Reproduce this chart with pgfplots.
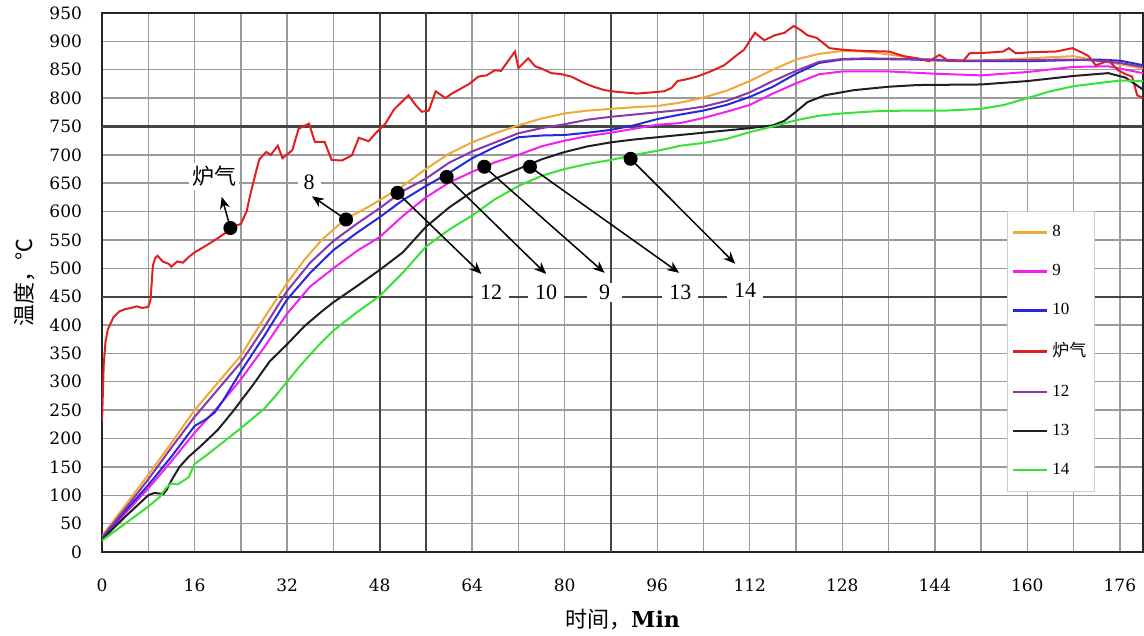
\documentclass[border=0pt]{standalone}
\usepackage{fontspec}
\setmainfont{DejaVu Serif}
\newfontfamily\cjk{Noto Sans CJK SC}
\newfontfamily\tnr{Liberation Serif}
\usepackage{pgfplots}
\pgfplotsset{compat=1.18}
\usetikzlibrary{arrows.meta}
\definecolor{c8}{HTML}{F0A838}
\definecolor{c9}{HTML}{F020F0}
\definecolor{c10}{HTML}{2828D8}
\definecolor{cred}{HTML}{E02020}
\definecolor{c12}{HTML}{8838A8}
\definecolor{c13}{HTML}{202020}
\definecolor{c14}{HTML}{38E038}
\definecolor{gridc}{HTML}{9A9A9A}
\definecolor{gridd}{HTML}{454545}
\begin{document}
\begin{tikzpicture}
\begin{axis}[
 set layers,
 scale only axis, width=520.5pt, height=269.5pt,
 xmin=0, xmax=180, ymin=0, ymax=950,
 xtick={0,16,...,176}, minor xtick={8,24,...,168},
 ytick={0,50,...,950},
 grid=both,
 major grid style={gridc, line width=0.7pt},
 minor grid style={gridc, line width=0.7pt},
 major tick length=0pt, minor tick length=0pt,
 axis line style={black!85, line width=1.1pt},
 tick label style={font=\fontsize{8.5}{10}\selectfont},
 /pgf/number format/assume math mode=true,
 yticklabel style={xshift=-6.5pt},
 xticklabel style={yshift=-10pt},
 xlabel={{\cjk 时间，}\textbf{Min}},
 xlabel style={font=\fontsize{11}{13}\selectfont, at={(axis description cs:0.5,0)}, anchor=center, yshift=-34pt},
 ylabel={{\cjk 温度，℃}},
 ylabel style={font=\fontsize{11}{13}\selectfont, at={(axis description cs:-0.075,0.5)}, anchor=center},
 legend style={at={(axis cs:156.5,601)}, anchor=north west, font=\fontsize{8.5}{9}\tnr,
   draw=gray!40, fill=white, row sep=8.4pt, inner xsep=2pt, inner ysep=5pt},
 legend cell align=left,
 legend image code/.code={\draw[#1, line width=1.4pt] (0cm,0cm) -- (0.6cm,0cm);},
 every axis plot/.append style={line width=1pt},
]
% darker grid lines
\draw[gridd, line width=1.05pt] (axis cs:48,0) -- (axis cs:48,950);
\draw[gridd, line width=1.05pt] (axis cs:56,0) -- (axis cs:56,950);
\draw[gridd, line width=1.05pt] (axis cs:88,0) -- (axis cs:88,950);
\draw[gridd, line width=1.05pt] (axis cs:0,450) -- (axis cs:180,450);
\draw[gridd, line width=1.05pt] (axis cs:0,750) -- (axis cs:180,750);
\addplot[c8] coordinates {(0,28)(4,82)(8,136)(12,192)(16,250)(20,298)(24,346)(28,412)(32,474)(35,515)(38,550)(42,586)(46,608)(48,620)(52,645)(56,675)(60,702)(64,722)(68,738)(72,752)(76,764)(80,773)(84,778)(88,781)(92,784)(96,786)(100,792)(104,801)(108,813)(112,830)(116,850)(120,868)(124,878)(128,883)(132,882)(136,877)(140,871)(144,866)(150,866)(156,868)(162,871)(168,874)(172,866)(176,860)(180,852)};
\addlegendentry{8}
\addplot[c9] coordinates {(0,24)(4,68)(8,112)(12,160)(16,210)(20,255)(24,304)(28,360)(32,420)(36,468)(40,500)(44,530)(48,555)(52,592)(56,625)(60,651)(64,670)(68,687)(72,700)(76,715)(80,725)(84,733)(88,739)(92,746)(96,753)(100,756)(104,765)(108,776)(112,788)(116,808)(120,826)(124,842)(128,847)(136,847)(144,843)(152,840)(160,846)(168,855)(174,856)(180,844)};
\addlegendentry{9}
\addplot[c10] coordinates {(0,25)(4,72)(8,118)(12,168)(16,222)(18,234)(19.5,246)(21,268)(24,318)(28,380)(32,445)(36,492)(40,532)(44,562)(48,590)(52,620)(56,645)(60,668)(64,694)(68,714)(72,731)(76,734)(80,735)(84,739)(88,744)(92,752)(96,763)(100,771)(104,778)(108,788)(112,802)(116,820)(120,843)(124,862)(128,868)(132,869)(140,868)(150,865)(160,865)(168,867)(172,868)(176,866)(180,858)};
\addlegendentry{10}
\addplot[cred] coordinates {(0,230)(0.3,330)(0.6,370)(1,392)(2,414)(3,424)(4,428)(5,430)(6,433)(7,430)(8,432)(8.4,445)(8.8,505)(9.2,518)(9.6,522)(10.5,512)(11.5,508)(12,503)(13,512)(14,510)(15,520)(16,528)(18,540)(20,553)(21,560)(22,566)(23,575)(24,578)(25,600)(25.6,628)(26.5,665)(27.2,692)(28.4,705)(29.2,700)(30.4,716)(31.2,694)(32.9,708)(34,746)(35.8,755)(36.8,723)(38.5,723)(39.7,691)(41.5,690)(43.2,699)(44.4,730)(46.1,724)(47.5,740)(49,755)(50.5,780)(51.5,790)(53,805)(54.2,788)(55.3,776)(56.5,778)(57.7,812)(59.4,800)(60.5,808)(62.1,817)(63.5,825)(65.1,838)(66.5,840)(67.9,849)(69,848)(70.2,865)(71.4,882)(72,853)(73.7,870)(74.9,856)(76,852)(77.7,844)(79.5,842)(81.1,838)(83.5,826)(85,820)(86.9,814)(89,811)(92.6,808)(95,810)(97.2,812)(98.5,818)(99.5,830)(101,833)(102.9,838)(105,846)(107.6,858)(109.8,876)(111,885)(112.9,915)(114.5,902)(116.4,911)(118,915)(119.6,927)(120.8,920)(121.9,911)(123.6,906)(125.8,888)(128.2,885)(132,883)(136.1,882)(138.6,874)(141,870)(143,865)(144.8,876)(146.5,865)(148.9,865)(150,879)(153,880)(155.8,882)(156.8,888)(158,879)(161,881)(164.9,882)(167.8,888)(169.5,880)(170.6,874)(171.8,858)(173,862)(174,867)(175.7,849)(177,842)(178.1,838)(179,805)(180,800)};
\addlegendentry{\cjk 炉气}
\addplot[c12] coordinates {(0,26)(4,76)(8,128)(12,184)(16,238)(20,286)(24,334)(28,395)(32,460)(36,510)(40,548)(44,578)(48,606)(52,636)(56,658)(60,686)(64,706)(68,722)(72,738)(76,747)(80,754)(84,762)(88,767)(92,771)(96,775)(100,779)(104,785)(108,795)(112,810)(116,830)(120,848)(124,864)(128,869)(132,870)(140,869)(150,866)(160,867)(168,868)(172,866)(176,862)(180,855)};
\addlegendentry{12}
\addplot[c13] coordinates {(0,22)(4,62)(8,100)(9,104)(10,103)(10.6,102)(11.2,110)(12,126)(13.4,150)(15,168)(17,186)(20,215)(22.5,246)(26,293)(29,336)(32,366)(35,398)(38,424)(40,440)(44,468)(48,497)(52,528)(56,573)(60,607)(64,635)(68,658)(72,675)(76,692)(80,705)(84,715)(88,722)(92,727)(96,731)(100,735)(104,739)(108,743)(112,747)(116,752)(118,760)(120,776)(122,793)(125,805)(130,814)(136,820)(141,823)(152,824)(160,830)(168,839)(174,844)(177,836)(180,815)};
\addlegendentry{13}
\addplot[c14] coordinates {(0,20)(4,50)(8,80)(10,97)(11,112)(12,121)(13,119)(14,125)(15,132)(16,155)(18,170)(20,186)(22,202)(24,218)(26,235)(28,252)(30,275)(32,300)(34,325)(36,348)(38,370)(40,390)(44,422)(48,451)(52,492)(56,538)(60,568)(64,593)(68,622)(72,645)(76,663)(80,675)(84,684)(88,691)(92,700)(96,707)(100,716)(104,721)(108,728)(112,740)(116,750)(120,761)(124,769)(128,773)(134,777)(140,778)(146,778)(152,781)(156,788)(160,800)(164,812)(168,821)(172,826)(176,831)(180,830)};
\addlegendentry{14}
% annotation arrows
\draw[-{Stealth[length=6pt,width=5pt]}, line width=0.75pt] (axis cs:22.2,571) -- (axis cs:20.7,626);
\draw[-{Stealth[length=6pt,width=5pt]}, line width=0.75pt] (axis cs:42.2,586) -- (axis cs:36.3,627);
\draw[-{Stealth[length=6pt,width=5pt]}, line width=0.75pt] (axis cs:51.1,633) -- (axis cs:65.6,490);
\draw[-{Stealth[length=6pt,width=5pt]}, line width=0.75pt] (axis cs:59.6,661) -- (axis cs:76.8,490);
\draw[-{Stealth[length=6pt,width=5pt]}, line width=0.75pt] (axis cs:66.1,679) -- (axis cs:86.9,492);
\draw[-{Stealth[length=6pt,width=5pt]}, line width=0.75pt] (axis cs:74,679) -- (axis cs:99.8,492);
\draw[-{Stealth[length=6pt,width=5pt]}, line width=0.75pt] (axis cs:91.4,693) -- (axis cs:109.5,508);
\addplot[only marks, mark=*, mark size=3pt, black, forget plot] coordinates {(22.2,571)(42.2,586)(51.1,633)(59.6,661)(66.1,679)(74,679)(91.4,693)};
\node[fill=white, inner sep=1.5pt, font=\fontsize{11}{12}\cjk] at (axis cs:19.4,662) {炉气};
\node[fill=white, inner xsep=3pt, inner ysep=1pt, font=\fontsize{11}{12}\tnr] at (axis cs:35.8,652) {8};
\node[fill=white, inner xsep=3.5pt, inner ysep=1pt, font=\fontsize{11}{12}\tnr] at (axis cs:67.3,458) {12};
\node[fill=white, inner xsep=3.5pt, inner ysep=1pt, font=\fontsize{11}{12}\tnr] at (axis cs:76.8,458) {10};
\node[fill=white, inner xsep=6pt, inner ysep=1pt, font=\fontsize{11}{12}\tnr] at (axis cs:86.9,458) {9};
\node[fill=white, inner xsep=3.5pt, inner ysep=1pt, font=\fontsize{11}{12}\tnr] at (axis cs:100,458) {13};
\node[fill=white, inner xsep=3.5pt, inner ysep=1pt, font=\fontsize{11}{12}\tnr] at (axis cs:111.2,462) {14};
\end{axis}
\pgfresetboundingbox
\path[use as bounding box] ([shift={(-51pt,-42pt)}]current axis.south west) rectangle ([shift={(0.5pt,6.5pt)}]current axis.north east);
\end{tikzpicture}
\end{document}
